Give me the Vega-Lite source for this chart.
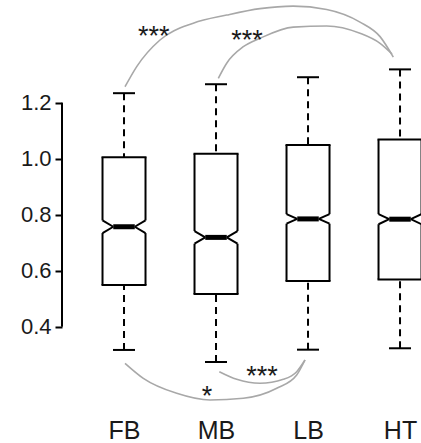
{
  "$schema": "https://vega.github.io/schema/vega-lite/v6.json",
  "width": 359,
  "height": 405,
  "autosize": "none",
  "padding": {"left": 62, "top": 0, "right": 0, "bottom": 38},
  "background": "white",
  "config": {"view": {"stroke": null}},
  "datasets": {
    "stats": [
      {"group": "FB", "pos": 1, "lo": 0.317, "q1": 0.549, "nlo": 0.7345, "med": 0.757, "nhi": 0.7795, "q3": 1.005, "hi": 1.234},
      {"group": "MB", "pos": 2, "lo": 0.274, "q1": 0.517, "nlo": 0.6965, "med": 0.719, "nhi": 0.7415, "q3": 1.018, "hi": 1.266},
      {"group": "LB", "pos": 3, "lo": 0.318, "q1": 0.563, "nlo": 0.768, "med": 0.785, "nhi": 0.802, "q3": 1.049, "hi": 1.291},
      {"group": "HT", "pos": 4, "lo": 0.323, "q1": 0.569, "nlo": 0.766, "med": 0.784, "nhi": 0.802, "q3": 1.069, "hi": 1.319}
    ],
    "axisline": [
      {"pos": 0.326, "from": 0.4, "to": 1.2}
    ],
    "arcs": [
      {"arc": "FB-HT", "o": 0, "pos": 1.011, "y": 1.257},
      {"arc": "FB-HT", "o": 1, "pos": 1.138, "y": 1.329},
      {"arc": "FB-HT", "o": 2, "pos": 1.391, "y": 1.424},
      {"arc": "FB-HT", "o": 3, "pos": 1.753, "y": 1.484},
      {"arc": "FB-HT", "o": 4, "pos": 2.116, "y": 1.513},
      {"arc": "FB-HT", "o": 5, "pos": 2.478, "y": 1.536},
      {"arc": "FB-HT", "o": 6, "pos": 2.840, "y": 1.545},
      {"arc": "FB-HT", "o": 7, "pos": 3.203, "y": 1.533},
      {"arc": "FB-HT", "o": 8, "pos": 3.565, "y": 1.488},
      {"arc": "FB-HT", "o": 9, "pos": 3.783, "y": 1.436},
      {"arc": "FB-HT", "o": 10, "pos": 3.927, "y": 1.363},
      {"arc": "MB-HT", "o": 0, "pos": 2.025, "y": 1.287},
      {"arc": "MB-HT", "o": 1, "pos": 2.116, "y": 1.341},
      {"arc": "MB-HT", "o": 2, "pos": 2.297, "y": 1.400},
      {"arc": "MB-HT", "o": 3, "pos": 2.478, "y": 1.430},
      {"arc": "MB-HT", "o": 4, "pos": 2.840, "y": 1.470},
      {"arc": "MB-HT", "o": 5, "pos": 3.203, "y": 1.474},
      {"arc": "MB-HT", "o": 6, "pos": 3.565, "y": 1.448},
      {"arc": "MB-HT", "o": 7, "pos": 3.783, "y": 1.412},
      {"arc": "MB-HT", "o": 8, "pos": 3.913, "y": 1.374},
      {"arc": "FB-LB", "o": 0, "pos": 1.011, "y": 0.2693},
      {"arc": "FB-LB", "o": 1, "pos": 1.210, "y": 0.2157},
      {"arc": "FB-LB", "o": 2, "pos": 1.573, "y": 0.1621},
      {"arc": "FB-LB", "o": 3, "pos": 1.935, "y": 0.1382},
      {"arc": "FB-LB", "o": 4, "pos": 2.297, "y": 0.1443},
      {"arc": "FB-LB", "o": 5, "pos": 2.660, "y": 0.180},
      {"arc": "FB-LB", "o": 6, "pos": 2.877, "y": 0.2275},
      {"arc": "FB-LB", "o": 7, "pos": 2.967, "y": 0.2811},
      {"arc": "MB-LB", "o": 0, "pos": 2.036, "y": 0.2393},
      {"arc": "MB-LB", "o": 1, "pos": 2.225, "y": 0.2121},
      {"arc": "MB-LB", "o": 2, "pos": 2.478, "y": 0.1979},
      {"arc": "MB-LB", "o": 3, "pos": 2.732, "y": 0.2121},
      {"arc": "MB-LB", "o": 4, "pos": 2.877, "y": 0.2393},
      {"arc": "MB-LB", "o": 5, "pos": 2.967, "y": 0.2811}
    ],
    "sig": [
      {"t": "***", "pos": 1.324, "y": 1.455},
      {"t": "***", "pos": 2.337, "y": 1.443},
      {"t": "***", "pos": 2.5, "y": 0.2436},
      {"t": "*", "pos": 1.902, "y": 0.170}
    ]
  },
  "encoding": {
    "x": {
      "field": "pos",
      "type": "quantitative",
      "scale": {"domain": [0.326, 4.228], "nice": false, "zero": false},
      "axis": {
        "values": [1, 2, 3, 4],
        "labelExpr": "['', 'FB', 'MB', 'LB', 'HT'][datum.value]",
        "domain": false,
        "ticks": false,
        "grid": false,
        "labelFont": "Liberation Sans",
        "labelFontSize": 25,
        "labelColor": "#1a1a1a",
        "labelPadding": 13,
        "labelFlush": false,
        "title": null
      }
    }
  },
  "layer": [
    {
      "data": {"name": "axisline"},
      "mark": {"type": "rule", "color": "#000000", "strokeWidth": 2},
      "encoding": {
        "y": {"field": "from", "type": "quantitative",
          "scale": {"domain": [0.1204, 1.5668], "nice": false, "zero": false},
          "axis": {"values": [0.4, 0.6, 0.8, 1.0, 1.2], "format": ".1f", "domain": false, "grid": false, "tickSize": 7, "tickWidth": 2, "tickColor": "#000000", "labelFont": "Liberation Sans", "labelFontSize": 22, "labelColor": "#1a1a1a", "labelPadding": 4, "title": null}},
        "y2": {"field": "to"}
      }
    },
    {
      "data": {"name": "stats"},
      "mark": {"type": "rule", "color": "#000000", "strokeWidth": 2, "strokeDash": [7, 5]},
      "encoding": {
        "y": {"field": "lo", "type": "quantitative", "scale": {"domain": [0.1204, 1.5668], "nice": false, "zero": false}, "axis": {"values": [0.4, 0.6, 0.8, 1.0, 1.2], "format": ".1f", "domain": false, "grid": false, "tickSize": 7, "tickWidth": 2, "tickColor": "#000000", "labelFont": "Liberation Sans", "labelFontSize": 22, "labelColor": "#1a1a1a", "labelPadding": 4, "title": null}},
        "y2": {"field": "q1"}
      }
    },
    {
      "data": {"name": "stats"},
      "mark": {"type": "rule", "color": "#000000", "strokeWidth": 2, "strokeDash": [7, 5]},
      "encoding": {
        "y": {"field": "hi", "type": "quantitative", "scale": {"domain": [0.1204, 1.5668], "nice": false, "zero": false}, "axis": {"values": [0.4, 0.6, 0.8, 1.0, 1.2], "format": ".1f", "domain": false, "grid": false, "tickSize": 7, "tickWidth": 2, "tickColor": "#000000", "labelFont": "Liberation Sans", "labelFontSize": 22, "labelColor": "#1a1a1a", "labelPadding": 4, "title": null}},
        "y2": {"field": "q3"}
      }
    },
    {
      "data": {"name": "stats"},
      "mark": {"type": "rule", "color": "#000000", "strokeWidth": 2, "xOffset": -11, "x2Offset": 11},
      "encoding": {
        "x2": {"field": "pos"},
        "y": {"field": "lo", "type": "quantitative", "scale": {"domain": [0.1204, 1.5668], "nice": false, "zero": false}, "axis": {"values": [0.4, 0.6, 0.8, 1.0, 1.2], "format": ".1f", "domain": false, "grid": false, "tickSize": 7, "tickWidth": 2, "tickColor": "#000000", "labelFont": "Liberation Sans", "labelFontSize": 22, "labelColor": "#1a1a1a", "labelPadding": 4, "title": null}}
      }
    },
    {
      "data": {"name": "stats"},
      "mark": {"type": "rule", "color": "#000000", "strokeWidth": 2, "xOffset": -11, "x2Offset": 11},
      "encoding": {
        "x2": {"field": "pos"},
        "y": {"field": "hi", "type": "quantitative", "scale": {"domain": [0.1204, 1.5668], "nice": false, "zero": false}, "axis": {"values": [0.4, 0.6, 0.8, 1.0, 1.2], "format": ".1f", "domain": false, "grid": false, "tickSize": 7, "tickWidth": 2, "tickColor": "#000000", "labelFont": "Liberation Sans", "labelFontSize": 22, "labelColor": "#1a1a1a", "labelPadding": 4, "title": null}}
      }
    },
    {
      "data": {"name": "stats"},
      "mark": {"type": "rule", "color": "#000000", "strokeWidth": 2, "strokeCap": "square", "xOffset": -21.5, "x2Offset": 21.5},
      "encoding": {
        "x2": {"field": "pos"},
        "y": {"field": "q1", "type": "quantitative", "scale": {"domain": [0.1204, 1.5668], "nice": false, "zero": false}, "axis": {"values": [0.4, 0.6, 0.8, 1.0, 1.2], "format": ".1f", "domain": false, "grid": false, "tickSize": 7, "tickWidth": 2, "tickColor": "#000000", "labelFont": "Liberation Sans", "labelFontSize": 22, "labelColor": "#1a1a1a", "labelPadding": 4, "title": null}}
      }
    },
    {
      "data": {"name": "stats"},
      "mark": {"type": "rule", "color": "#000000", "strokeWidth": 2, "strokeCap": "square", "xOffset": -21.5, "x2Offset": 21.5},
      "encoding": {
        "x2": {"field": "pos"},
        "y": {"field": "q3", "type": "quantitative", "scale": {"domain": [0.1204, 1.5668], "nice": false, "zero": false}, "axis": {"values": [0.4, 0.6, 0.8, 1.0, 1.2], "format": ".1f", "domain": false, "grid": false, "tickSize": 7, "tickWidth": 2, "tickColor": "#000000", "labelFont": "Liberation Sans", "labelFontSize": 22, "labelColor": "#1a1a1a", "labelPadding": 4, "title": null}}
      }
    },
    {
      "data": {"name": "stats"},
      "mark": {"type": "rule", "color": "#000000", "strokeWidth": 2, "xOffset": -21.5},
      "encoding": {
        "y": {"field": "q1", "type": "quantitative", "scale": {"domain": [0.1204, 1.5668], "nice": false, "zero": false}, "axis": {"values": [0.4, 0.6, 0.8, 1.0, 1.2], "format": ".1f", "domain": false, "grid": false, "tickSize": 7, "tickWidth": 2, "tickColor": "#000000", "labelFont": "Liberation Sans", "labelFontSize": 22, "labelColor": "#1a1a1a", "labelPadding": 4, "title": null}},
        "y2": {"field": "nlo"}
      }
    },
    {
      "data": {"name": "stats"},
      "mark": {"type": "rule", "color": "#000000", "strokeWidth": 2, "xOffset": 21.5},
      "encoding": {
        "y": {"field": "q1", "type": "quantitative", "scale": {"domain": [0.1204, 1.5668], "nice": false, "zero": false}, "axis": {"values": [0.4, 0.6, 0.8, 1.0, 1.2], "format": ".1f", "domain": false, "grid": false, "tickSize": 7, "tickWidth": 2, "tickColor": "#000000", "labelFont": "Liberation Sans", "labelFontSize": 22, "labelColor": "#1a1a1a", "labelPadding": 4, "title": null}},
        "y2": {"field": "nlo"}
      }
    },
    {
      "data": {"name": "stats"},
      "mark": {"type": "rule", "color": "#000000", "strokeWidth": 2, "xOffset": -21.5},
      "encoding": {
        "y": {"field": "nhi", "type": "quantitative", "scale": {"domain": [0.1204, 1.5668], "nice": false, "zero": false}, "axis": {"values": [0.4, 0.6, 0.8, 1.0, 1.2], "format": ".1f", "domain": false, "grid": false, "tickSize": 7, "tickWidth": 2, "tickColor": "#000000", "labelFont": "Liberation Sans", "labelFontSize": 22, "labelColor": "#1a1a1a", "labelPadding": 4, "title": null}},
        "y2": {"field": "q3"}
      }
    },
    {
      "data": {"name": "stats"},
      "mark": {"type": "rule", "color": "#000000", "strokeWidth": 2, "xOffset": 21.5},
      "encoding": {
        "y": {"field": "nhi", "type": "quantitative", "scale": {"domain": [0.1204, 1.5668], "nice": false, "zero": false}, "axis": {"values": [0.4, 0.6, 0.8, 1.0, 1.2], "format": ".1f", "domain": false, "grid": false, "tickSize": 7, "tickWidth": 2, "tickColor": "#000000", "labelFont": "Liberation Sans", "labelFontSize": 22, "labelColor": "#1a1a1a", "labelPadding": 4, "title": null}},
        "y2": {"field": "q3"}
      }
    },
    {
      "data": {"name": "stats"},
      "mark": {"type": "rule", "color": "#000000", "strokeWidth": 2, "xOffset": -21.5, "x2Offset": -10.75},
      "encoding": {
        "x2": {"field": "pos"},
        "y": {"field": "nlo", "type": "quantitative", "scale": {"domain": [0.1204, 1.5668], "nice": false, "zero": false}, "axis": {"values": [0.4, 0.6, 0.8, 1.0, 1.2], "format": ".1f", "domain": false, "grid": false, "tickSize": 7, "tickWidth": 2, "tickColor": "#000000", "labelFont": "Liberation Sans", "labelFontSize": 22, "labelColor": "#1a1a1a", "labelPadding": 4, "title": null}},
        "y2": {"field": "med"}
      }
    },
    {
      "data": {"name": "stats"},
      "mark": {"type": "rule", "color": "#000000", "strokeWidth": 2, "xOffset": -21.5, "x2Offset": -10.75},
      "encoding": {
        "x2": {"field": "pos"},
        "y": {"field": "nhi", "type": "quantitative", "scale": {"domain": [0.1204, 1.5668], "nice": false, "zero": false}, "axis": {"values": [0.4, 0.6, 0.8, 1.0, 1.2], "format": ".1f", "domain": false, "grid": false, "tickSize": 7, "tickWidth": 2, "tickColor": "#000000", "labelFont": "Liberation Sans", "labelFontSize": 22, "labelColor": "#1a1a1a", "labelPadding": 4, "title": null}},
        "y2": {"field": "med"}
      }
    },
    {
      "data": {"name": "stats"},
      "mark": {"type": "rule", "color": "#000000", "strokeWidth": 2, "xOffset": 21.5, "x2Offset": 10.75},
      "encoding": {
        "x2": {"field": "pos"},
        "y": {"field": "nlo", "type": "quantitative", "scale": {"domain": [0.1204, 1.5668], "nice": false, "zero": false}, "axis": {"values": [0.4, 0.6, 0.8, 1.0, 1.2], "format": ".1f", "domain": false, "grid": false, "tickSize": 7, "tickWidth": 2, "tickColor": "#000000", "labelFont": "Liberation Sans", "labelFontSize": 22, "labelColor": "#1a1a1a", "labelPadding": 4, "title": null}},
        "y2": {"field": "med"}
      }
    },
    {
      "data": {"name": "stats"},
      "mark": {"type": "rule", "color": "#000000", "strokeWidth": 2, "xOffset": 21.5, "x2Offset": 10.75},
      "encoding": {
        "x2": {"field": "pos"},
        "y": {"field": "nhi", "type": "quantitative", "scale": {"domain": [0.1204, 1.5668], "nice": false, "zero": false}, "axis": {"values": [0.4, 0.6, 0.8, 1.0, 1.2], "format": ".1f", "domain": false, "grid": false, "tickSize": 7, "tickWidth": 2, "tickColor": "#000000", "labelFont": "Liberation Sans", "labelFontSize": 22, "labelColor": "#1a1a1a", "labelPadding": 4, "title": null}},
        "y2": {"field": "med"}
      }
    },
    {
      "data": {"name": "stats"},
      "mark": {"type": "rule", "color": "#000000", "strokeWidth": 5, "strokeCap": "butt", "xOffset": -10.75, "x2Offset": 10.75},
      "encoding": {
        "x2": {"field": "pos"},
        "y": {"field": "med", "type": "quantitative", "scale": {"domain": [0.1204, 1.5668], "nice": false, "zero": false}, "axis": {"values": [0.4, 0.6, 0.8, 1.0, 1.2], "format": ".1f", "domain": false, "grid": false, "tickSize": 7, "tickWidth": 2, "tickColor": "#000000", "labelFont": "Liberation Sans", "labelFontSize": 22, "labelColor": "#1a1a1a", "labelPadding": 4, "title": null}}
      }
    },
    {
      "data": {"name": "arcs"},
      "mark": {"type": "line", "color": "#a8a8a8", "strokeWidth": 1.6, "interpolate": "monotone"},
      "encoding": {
        "y": {"field": "y", "type": "quantitative", "scale": {"domain": [0.1204, 1.5668], "nice": false, "zero": false}, "axis": {"values": [0.4, 0.6, 0.8, 1.0, 1.2], "format": ".1f", "domain": false, "grid": false, "tickSize": 7, "tickWidth": 2, "tickColor": "#000000", "labelFont": "Liberation Sans", "labelFontSize": 22, "labelColor": "#1a1a1a", "labelPadding": 4, "title": null}},
        "detail": {"field": "arc", "type": "nominal"},
        "order": {"field": "o", "type": "quantitative"}
      }
    },
    {
      "data": {"name": "sig"},
      "mark": {"type": "text", "color": "#1a1a1a", "font": "Liberation Sans", "fontSize": 27, "baseline": "middle", "align": "center", "dy": 6},
      "encoding": {
        "y": {"field": "y", "type": "quantitative", "scale": {"domain": [0.1204, 1.5668], "nice": false, "zero": false}, "axis": {"values": [0.4, 0.6, 0.8, 1.0, 1.2], "format": ".1f", "domain": false, "grid": false, "tickSize": 7, "tickWidth": 2, "tickColor": "#000000", "labelFont": "Liberation Sans", "labelFontSize": 22, "labelColor": "#1a1a1a", "labelPadding": 4, "title": null}},
        "text": {"field": "t", "type": "nominal"}
      }
    }
  ]
}
